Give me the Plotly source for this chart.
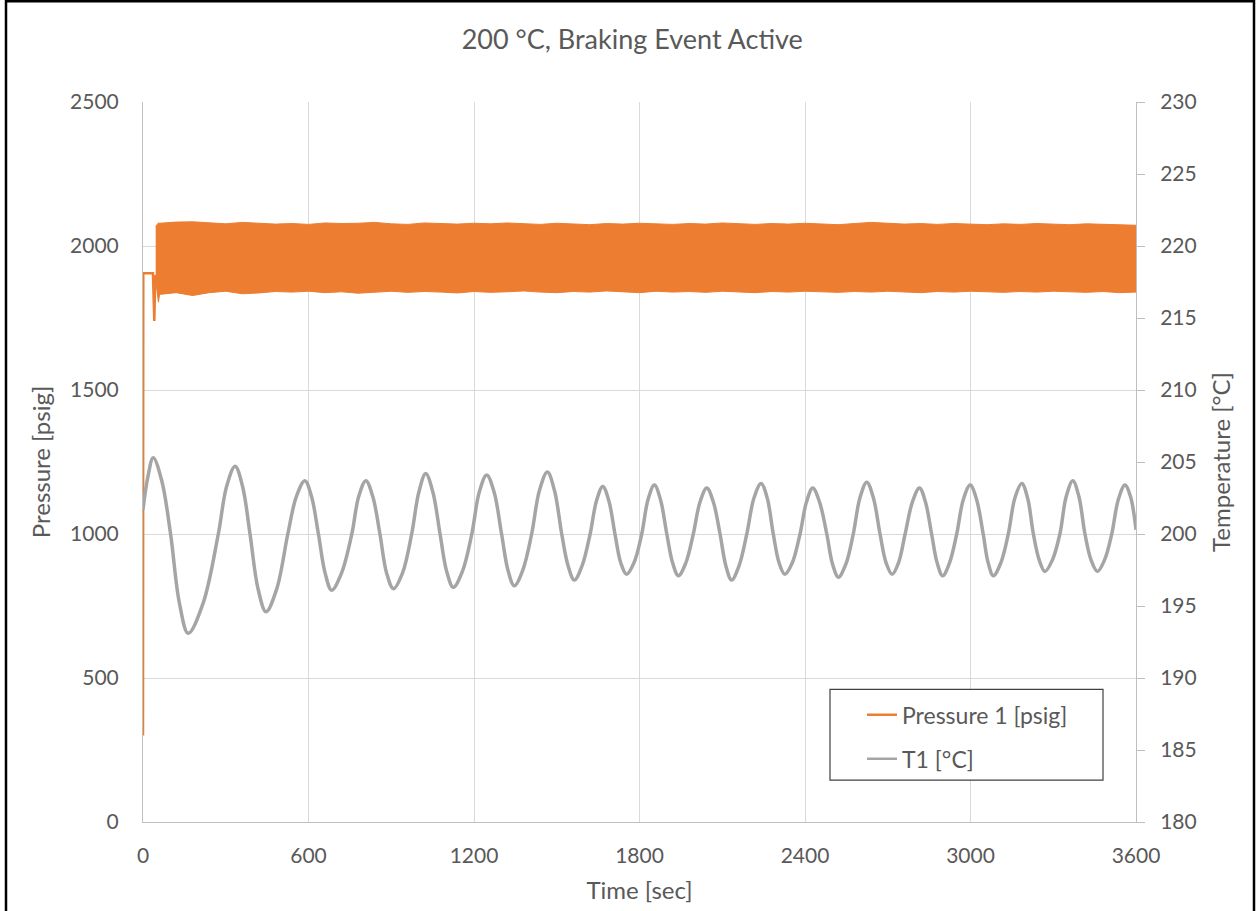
import plotly.graph_objects as go

# ---------------- data ----------------
# Pressure 1 [psig] before the oscillating band starts
time_pre = [0, 1, 36, 38, 41, 44, 46]
pressure_pre = [300, 1905, 1905, 1860, 1740, 1875, 1900]

# Pressure 1 [psig] oscillating band: upper / lower envelope
time_band = [46, 52, 56, 60, 120, 180, 240, 300, 360, 420, 480, 540, 600, 660, 720, 780,
             840, 900, 960, 1020, 1080, 1140, 1200, 1260, 1320, 1380, 1440, 1500, 1560,
             1620, 1680, 1740, 1800, 1860, 1920, 1980, 2040, 2100, 2160, 2220, 2280, 2340,
             2400, 2460, 2520, 2580, 2640, 2700, 2760, 2820, 2880, 2940, 3000, 3060, 3120,
             3180, 3240, 3300, 3360, 3420, 3480, 3540, 3600]
pressure_upper = [2068, 2076, 2080, 2079, 2083, 2084, 2080, 2077, 2082, 2079, 2076, 2078, 2075,
                  2080, 2078, 2079, 2082, 2077, 2075, 2080, 2078, 2076, 2079, 2077, 2080, 2078,
                  2075, 2079, 2077, 2074, 2078, 2076, 2079, 2077, 2075, 2078, 2076, 2080, 2077,
                  2075, 2078, 2076, 2079, 2077, 2074, 2078, 2082, 2079, 2076, 2078, 2075, 2078,
                  2076, 2074, 2077, 2075, 2078, 2076, 2074, 2077, 2075, 2073, 2072]
pressure_lower = [1880, 1830, 1805, 1832, 1838, 1828, 1838, 1843, 1834, 1837, 1842, 1840, 1843,
                  1838, 1841, 1836, 1840, 1843, 1839, 1842, 1840, 1837, 1842, 1839, 1841, 1844,
                  1840, 1838, 1842, 1840, 1844, 1841, 1838, 1843, 1840, 1842, 1839, 1843, 1841,
                  1838, 1842, 1840, 1843, 1841, 1839, 1842, 1840, 1843, 1841, 1838, 1842, 1840,
                  1843, 1841, 1839, 1842, 1840, 1843, 1841, 1839, 1842, 1838, 1840]

# T1 [°C]
time_t1 = [0, 18, 37, 68, 100, 132, 164, 218, 273, 303, 334, 361, 388, 417, 446, 485, 525,
           556, 587, 611, 636, 660, 684, 720, 757, 782, 808, 833, 859, 883, 908, 941, 974,
           1000, 1025, 1051, 1077, 1101, 1125, 1158, 1192, 1219, 1246, 1273, 1300, 1323,
           1346, 1377, 1409, 1437, 1466, 1492, 1518, 1541, 1564, 1592, 1621, 1644, 1667,
           1689, 1711, 1732, 1753, 1780, 1808, 1831, 1854, 1876, 1899, 1920, 1941, 1968,
           1995, 2019, 2044, 2068, 2092, 2113, 2134, 2161, 2189, 2215, 2241, 2263, 2285,
           2306, 2327, 2354, 2382, 2405, 2428, 2453, 2479, 2500, 2521, 2548, 2575, 2599,
           2624, 2648, 2672, 2694, 2716, 2739, 2763, 2789, 2815, 2837, 2859, 2879, 2899,
           2924, 2950, 2974, 2999, 3022, 3046, 3064, 3083, 3110, 3137, 3161, 3186, 3207,
           3228, 3249, 3270, 3297, 3324, 3347, 3371, 3393, 3415, 3437, 3460, 3486, 3512,
           3536, 3560, 3580, 3600]
temp_t1 = [201.7, 204.0, 205.3, 203.7, 200.0, 195.2, 193.1, 195.2, 200.0, 203.3, 204.7,
           203.3, 200.0, 196.2, 194.6, 196.2, 200.0, 202.6, 203.7, 202.6, 200.0, 197.3,
           196.1, 197.3, 200.0, 202.6, 203.7, 202.6, 200.0, 197.3, 196.2, 197.3, 200.0,
           202.9, 204.2, 202.9, 200.0, 197.4, 196.3, 197.4, 200.0, 202.9, 204.1, 202.9,
           200.0, 197.5, 196.4, 197.5, 200.0, 203.0, 204.3, 203.0, 200.0, 197.8, 196.8,
           197.8, 200.0, 202.3, 203.3, 202.3, 200.0, 198.0, 197.2, 198.0, 200.0, 202.4,
           203.4, 202.4, 200.0, 198.0, 197.1, 198.0, 200.0, 202.2, 203.2, 202.2, 200.0,
           197.8, 196.8, 197.8, 200.0, 202.5, 203.5, 202.5, 200.0, 198.0, 197.2, 198.0,
           200.0, 202.2, 203.2, 202.2, 200.0, 197.9, 197.0, 197.9, 200.0, 202.5, 203.6,
           202.5, 200.0, 198.0, 197.2, 198.0, 200.0, 202.2, 203.2, 202.2, 200.0, 198.0,
           197.1, 198.0, 200.0, 202.4, 203.4, 202.4, 200.0, 198.0, 197.1, 198.0, 200.0,
           202.5, 203.5, 202.5, 200.0, 198.2, 197.4, 198.2, 200.0, 202.6, 203.7, 202.6,
           200.0, 198.2, 197.4, 198.2, 200.0, 202.4, 203.4, 202.6, 200.3]

x_ticks = [0, 600, 1200, 1800, 2400, 3000, 3600]

# ---------------- styling ----------------
ORANGE = "#ED7D31"
GRAY = "#A5A5A5"
TXT = "#595959"
GRID = "#D9D9D9"
AXL = "#BFBFBF"
FONT = "Lato"

fig = go.Figure()

fig.add_trace(go.Scatter(x=time_t1, y=temp_t1, mode="lines", yaxis="y2",
                         line=dict(color=GRAY, width=3.5, shape="spline", smoothing=1.0),
                         showlegend=False, hoverinfo="skip"))

fig.add_trace(go.Scatter(x=time_pre, y=pressure_pre, mode="lines",
                         line=dict(color=ORANGE, width=2.5), showlegend=False))
fig.add_trace(go.Scatter(x=time_band, y=pressure_upper, mode="lines",
                         line=dict(color=ORANGE, width=1), showlegend=False))
fig.add_trace(go.Scatter(x=time_band, y=pressure_lower, mode="lines", fill="tonexty",
                         fillcolor=ORANGE, line=dict(color=ORANGE, width=1), showlegend=False))

# legend entries
fig.add_trace(go.Scatter(x=[None], y=[None], mode="lines", name="Pressure 1 [psig]",
                         line=dict(color=ORANGE, width=2.5), legendgroup="a"))
fig.add_trace(go.Scatter(x=[None], y=[None], mode="lines", name="T1 [°C]",
                         line=dict(color=GRAY, width=2.5), legendgroup="b"))

L, R, T, B = 143, 1136, 102, 824
W, H = 1257, 911
pw, ph = R - L, B - T


def px(xp):
    return (xp - L) / pw


def py(yp):
    return (B - yp) / ph


fig.update_layout(
    width=W, height=H,
    margin=dict(l=L, r=W - R, t=T, b=H - B),
    paper_bgcolor="white", plot_bgcolor="white",
    font=dict(family=FONT, color=TXT, size=20),
    title=dict(text="200 °C, Braking Event Active", x=0.503, xref="container",
               y=1 - 40 / H, yref="container", xanchor="center", yanchor="middle",
               font=dict(size=27, color=TXT, family=FONT)),
    xaxis=dict(range=[0, 3600], tickvals=x_ticks, showgrid=True, gridcolor=GRID,
               showline=True, linecolor=AXL, linewidth=1, zeroline=False, ticks="",
               tickfont=dict(size=21, color=TXT), ticklabelstandoff=15,
               title=dict(text="Time [sec]", font=dict(size=24, color=TXT), standoff=15)),
    yaxis=dict(range=[0, 2500], dtick=500, showgrid=True, gridcolor=GRID,
               showline=True, linecolor=AXL, linewidth=1, zeroline=False, ticks="",
               tickfont=dict(size=21, color=TXT), ticklabelstandoff=19,
               title=dict(text="Pressure [psig]", font=dict(size=24, color=TXT), standoff=12)),
    yaxis2=dict(range=[180, 230], dtick=5, overlaying="y", side="right", showgrid=False,
                showline=True, linecolor=AXL, linewidth=1, zeroline=False,
                ticks="outside", ticklen=8, tickcolor=AXL,
                tickfont=dict(size=21, color=TXT), ticklabelstandoff=11,
                title=dict(text="Temperature [°C]", font=dict(size=24, color=TXT), standoff=17)),
    legend=dict(x=px(862), y=py(695), xanchor="left", yanchor="top",
                bgcolor="rgba(0,0,0,0)", borderwidth=0, tracegroupgap=11,
                font=dict(size=23, color=TXT, family=FONT)),
    showlegend=True,
    shapes=[
        dict(type="rect", xref="paper", yref="paper", x0=px(830), x1=px(1103),
             y0=py(782), y1=py(691), line=dict(color="#404040", width=1.2),
             fillcolor="white", layer="above"),
        dict(type="rect", xref="paper", yref="paper", x0=px(6), x1=px(1254),
             y0=py(930), y1=py(1), line=dict(color="black", width=2.5), layer="above"),
    ],
)

fig.write_html("out.html", config={"displayModeBar": False},
               post_script="document.body.style.margin='0';")
